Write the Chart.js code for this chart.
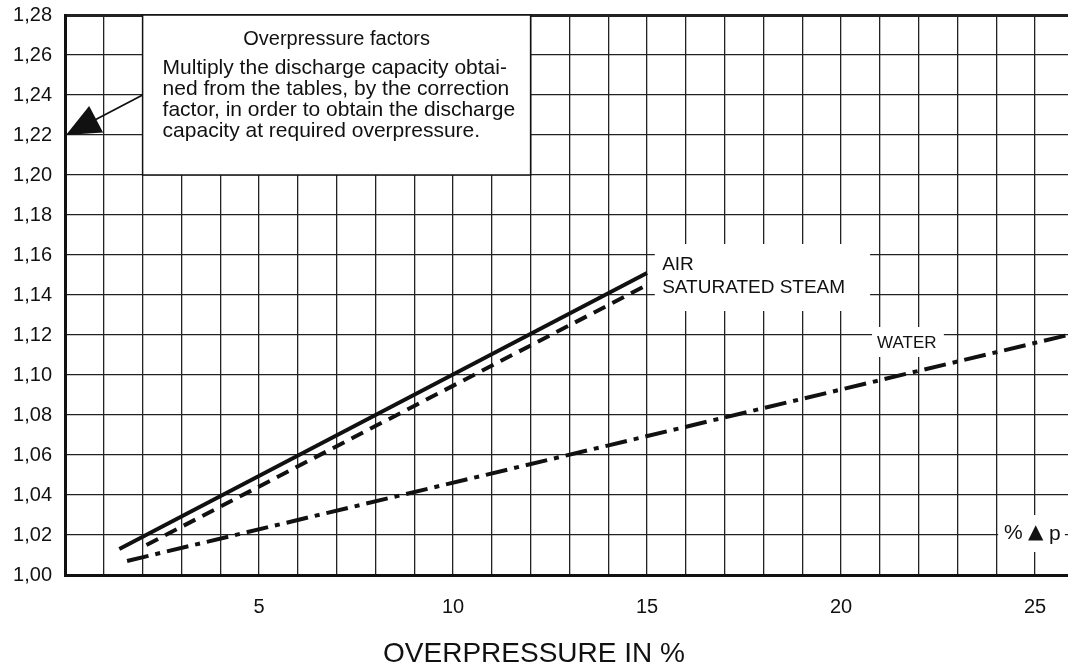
<!DOCTYPE html>
<html>
<head>
<meta charset="utf-8">
<script src="https://cdn.jsdelivr.net/npm/chart.js@4.4.1/dist/chart.umd.min.js"></script>
<style>
  html, body { margin: 0; padding: 0; background: #fff; overflow: hidden; }
</style>
</head>
<body>
<canvas id="myChart" width="1068" height="668"></canvas>
<script>
// Datos
const airX = [1.4, 15];
const airY = [1.013, 1.151];
const steamX = [2.1, 15];
const steamY = [1.015, 1.145];
const waterX = [1.6, 25.85];
const waterY = [1.007, 1.12];

const xTickLabels = [5, 10, 15, 20, 25];
const xTitle = 'OVERPRESSURE IN %';
const boxTitle = 'Overpressure factors';
const boxLines = [
  'Multiply the discharge capacity obtai-',
  'ned from the tables, by the correction',
  'factor, in order to obtain the discharge',
  'capacity at required overpressure.'
];
const curveLabels = ['AIR', 'SATURATED STEAM', 'WATER'];
const deltaLabel = ['%', '\u25B2', 'p'];

const font = '"Liberation Sans", Arial, Helvetica, sans-serif';
const xMax = 25.85;

const toPoints = (xs, ys) => xs.map((x, i) => ({ x: x, y: ys[i] }));

// sin margenes extra de las escalas
const sinPadding = s => {
  s.paddingTop = 0;
  s.paddingBottom = 0;
  s.paddingLeft = 0;
  s.paddingRight = 0;
};

// Cajas blancas, flecha y textos
const notas = {
  id: 'notas',
  beforeDatasetsDraw(chart) {
    const c = chart.ctx;
    const sx = chart.scales.x, sy = chart.scales.y;
    const px = v => sx.getPixelForValue(v);
    const py = v => sy.getPixelForValue(v);

    c.save();
    // caja de texto
    const bx1 = px(2), bx2 = px(12), by1 = py(1.28), by2 = py(1.20);
    c.fillStyle = '#fff';
    c.fillRect(bx1, by1, bx2 - bx1, by2 - by1);
    c.strokeStyle = '#111';
    c.lineWidth = 1.5;
    c.strokeRect(bx1, by1, bx2 - bx1, by2 - by1);

    c.fillStyle = '#111';
    c.textBaseline = 'middle';
    c.font = '20px ' + font;
    c.textAlign = 'center';
    c.fillText(boxTitle, (bx1 + bx2) / 2, by1 + 24);
    c.textAlign = 'left';
    c.font = '21px ' + font;
    boxLines.forEach((t, i) => c.fillText(t, bx1 + 20, by1 + 53 + i * 21));

    // flecha
    const tx = px(0) + 1, ty = py(1.22);
    const fx = px(2), fy = py(1.24);
    const dx = fx - tx, dy = fy - ty, len = Math.hypot(dx, dy);
    const ux = dx / len, uy = dy / len;
    c.beginPath();
    c.moveTo(fx, fy);
    c.lineTo(tx + ux * 25, ty + uy * 25);
    c.lineWidth = 1.8;
    c.stroke();
    c.beginPath();
    c.moveTo(tx, ty);
    c.lineTo(tx + ux * 34 - uy * 15, ty + uy * 34 + ux * 15);
    c.lineTo(tx + ux * 34 + uy * 15, ty + uy * 34 - ux * 15);
    c.closePath();
    c.fill();

    // etiquetas de curvas
    const caja = (x1, x2, y1, y2) => {
      c.fillStyle = '#fff';
      c.fillRect(px(x1), py(y1), px(x2) - px(x1), py(y2) - py(y1));
    };
    caja(15.2, 20.75, 1.1655, 1.132);
    caja(20.8, 22.65, 1.124, 1.109);
    caja(24.05, 25.77, 1.03, 1.0115);

    c.fillStyle = '#111';
    c.textAlign = 'left';
    c.font = '19px ' + font;
    c.fillText(curveLabels[0], px(15.39), py(1.155));
    c.fillText(curveLabels[1], px(15.39), py(1.1435));
    c.font = '17px ' + font;
    c.fillText(curveLabels[2], px(20.93), py(1.116));

    // % ▲ p
    const dyp = py(1.021);
    c.font = '21px ' + font;
    c.fillText(deltaLabel[0], px(24.2), dyp);
    c.font = '20px "DejaVu Sans", sans-serif';
    c.fillText(deltaLabel[1], px(24.2) + 24, dyp);
    c.font = '21px ' + font;
    c.fillText(deltaLabel[2], px(24.2) + 45, dyp + 1);
    c.restore();
  }
};

const ctx = document.getElementById('myChart').getContext('2d');
const myChart = new Chart(ctx, {
  type: 'line',
  data: {
    datasets: [
      {
        label: 'AIR',
        data: toPoints(airX, airY),
        borderColor: '#111',
        borderWidth: 4,
        borderCapStyle: 'butt'
      },
      {
        label: 'SATURATED STEAM',
        data: toPoints(steamX, steamY),
        borderColor: '#111',
        borderWidth: 4,
        borderDash: [13, 8],
        borderCapStyle: 'butt'
      },
      {
        label: 'WATER',
        data: toPoints(waterX, waterY),
        borderColor: '#111',
        borderWidth: 4,
        borderDash: [22, 7, 5, 7],
        borderCapStyle: 'butt'
      }
    ]
  },
  options: {
    responsive: false,
    animation: false,
    events: [],
    elements: { point: { radius: 0 }, line: { tension: 0 } },
    layout: { padding: { left: 0, top: 15, right: 0, bottom: 0 } },
    plugins: {
      legend: { display: false },
      tooltip: { enabled: false },
      title: {
        display: true,
        position: 'bottom',
        text: xTitle,
        color: '#111',
        font: { family: font, size: 28, weight: 'normal', lineHeight: 1 },
        padding: { top: 0, bottom: 0 }
      }
    },
    scales: {
      x: {
        type: 'linear',
        min: 0,
        max: xMax,
        afterBuildTicks: s => {
          s.ticks = Array.from({ length: 26 }, (_, i) => ({ value: i }));
        },
        afterFit: s => { s.height = 65; sinPadding(s); },
        ticks: {
          autoSkip: false,
          maxRotation: 0,
          padding: 20,
          color: '#111',
          font: { family: font, size: 20 },
          callback: v => xTickLabels.includes(v) ? String(v) : ''
        },
        grid: { color: '#222', lineWidth: 1.3, drawTicks: false },
        border: { color: '#111', width: 3 }
      },
      y: {
        min: 1,
        max: 1.28,
        afterFit: s => { s.width = 65; sinPadding(s); },
        ticks: {
          stepSize: 0.02,
          padding: 13,
          color: '#111',
          font: { family: font, size: 20 },
          callback: v => v.toFixed(2).replace('.', ',')
        },
        grid: {
          color: '#222',
          drawTicks: false,
          lineWidth: c => (c.tick && Math.abs(c.tick.value - 1.28) < 1e-6) ? 3 : 1.3
        },
        border: { color: '#111', width: 3 }
      }
    }
  },
  plugins: [notas]
});
</script>
</body>
</html>
